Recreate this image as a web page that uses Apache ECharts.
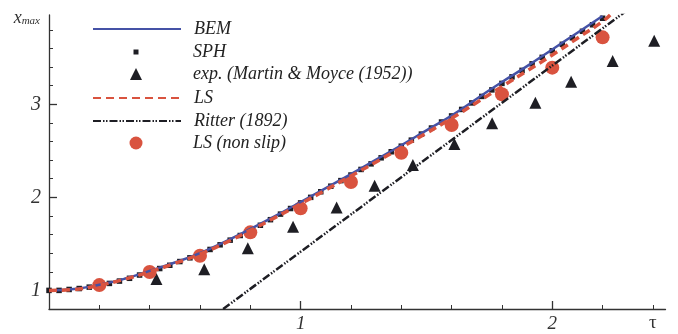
<!DOCTYPE html>
<html>
<head>
<meta charset="utf-8">
<script src="https://cdn.jsdelivr.net/npm/echarts@6/dist/echarts.min.js"></script>
<style>
  html, body { margin: 0; padding: 0; background: #fff; }
  #chart { width: 678px; height: 334px; }
</style>
</head>
<body>
<div id="chart"></div>
<script>
  var serif = '"Liberation Serif", "DejaVu Serif", serif';
  var colorBem = '#4552a6';
  var colorRed = '#d9533f';
  var colorDark = '#1e1e24';
  var colorAxis = '#333333';

  // BEM (solid blue)
  var bemTau = [0, 0.1, 0.2, 0.3, 0.4, 0.5, 0.6, 0.7, 0.8, 0.9, 1.0, 1.1, 1.2, 1.3, 1.4, 1.5, 1.6, 1.7, 1.8, 1.9, 2.0, 2.1, 2.2];
  var bemX = [1.00, 1.015, 1.06, 1.125, 1.21, 1.30, 1.40, 1.525, 1.66, 1.80, 1.95, 2.10, 2.25, 2.405, 2.56, 2.72, 2.88, 3.06, 3.24, 3.41, 3.59, 3.77, 3.95];

  // SPH (small squares)
  var sphTau = [0, 0.04, 0.08, 0.12, 0.16, 0.20, 0.24, 0.28, 0.32, 0.36, 0.40, 0.44, 0.48, 0.52, 0.56, 0.60, 0.64, 0.68, 0.72, 0.76,
    0.80, 0.84, 0.88, 0.92, 0.96, 1.00, 1.04, 1.08, 1.12, 1.16, 1.20, 1.24, 1.28, 1.32, 1.36, 1.40, 1.44, 1.48, 1.52, 1.56,
    1.60, 1.64, 1.68, 1.72, 1.76, 1.80, 1.84, 1.88, 1.92, 1.96, 2.00, 2.04, 2.08, 2.12, 2.16, 2.20];
  var sphX = [1.00, 1.00, 1.01, 1.02, 1.035, 1.055, 1.075, 1.10, 1.13, 1.165, 1.20, 1.235, 1.27, 1.31, 1.35, 1.39, 1.44, 1.49, 1.54, 1.59,
    1.645, 1.70, 1.76, 1.82, 1.88, 1.94, 2.00, 2.06, 2.12, 2.18, 2.24, 2.30, 2.36, 2.425, 2.49, 2.55, 2.615, 2.68, 2.745, 2.81,
    2.875, 2.945, 3.015, 3.085, 3.155, 3.225, 3.295, 3.365, 3.435, 3.505, 3.575, 3.645, 3.715, 3.785, 3.855, 3.925];

  // exp. (Martin & Moyce (1952))
  var expTau = [0.427, 0.617, 0.79, 0.97, 1.143, 1.294, 1.446, 1.611, 1.761, 1.933, 2.075, 2.24, 2.405];
  var expX = [1.122, 1.226, 1.452, 1.684, 1.892, 2.125, 2.347, 2.573, 2.796, 3.017, 3.243, 3.466, 3.684];

  // LS (red dashed)
  var lsTau = [0, 0.1, 0.2, 0.3, 0.4, 0.5, 0.6, 0.7, 0.8, 0.9, 1.0, 1.1, 1.2, 1.3, 1.4, 1.5, 1.6, 1.7, 1.8, 1.9, 2.0, 2.1, 2.2, 2.23];
  var lsX = [1.00, 1.01, 1.055, 1.12, 1.20, 1.29, 1.39, 1.51, 1.645, 1.785, 1.93, 2.08, 2.23, 2.38, 2.535, 2.69, 2.85, 3.02, 3.19, 3.36, 3.53, 3.71, 3.89, 3.96];

  // Ritter (1892)
  var ritterTau = [0.692, 2.29];
  var ritterX = [0.8, 3.996];

  // LS (non slip)
  var nsTau = [0.2, 0.4, 0.6, 0.8, 1.0, 1.2, 1.4, 1.6, 1.8, 2.0, 2.2];
  var nsX = [1.057, 1.197, 1.372, 1.624, 1.882, 2.165, 2.48, 2.777, 3.108, 3.394, 3.72];

  var xMajorTicks = [1, 2];
  var xMinorTicks = [0.2, 0.4, 0.6, 0.8, 1.2, 1.4, 1.6, 1.8, 2.2, 2.4];
  var xLabels = [1, 2, 2.4];
  var yMajorTicks = [1, 2, 3];
  var yMinorTicks = [1.2, 1.4, 1.6, 1.8, 2.2, 2.4, 2.6, 2.8, 3.2, 3.4, 3.6, 3.8];

  function pairs(a, b) {
    return a.map(function (v, i) { return [v, b[i]]; });
  }

  // legend rows: line items span 92..180, marker items centred at 136, text starts at 193
  var legendNames = ['BEM', 'SPH', 'exp. (Martin & Moyce (1952))', 'LS', 'Ritter (1892)', 'LS (non slip)'];
  var legendCenters = [29, 52, 74, 98, 121, 143];
  var legendIcons = ['line', 'rect', 'triangle', 'line', 'line', 'circle'];
  var legendSizes = [14, 5, 12, 14, 14, 13];

  var legends = legendNames.map(function (n, i) {
    var isLine = legendIcons[i] === 'line';
    var w = isLine ? 88 : legendSizes[i];
    var left = isLine ? 92 : 136 - w / 2;
    var item = { name: n };
    if (isLine) {
      item.itemStyle = { opacity: 0 };
    } else {
      item.icon = legendIcons[i];
    }
    return {
      data: [item],
      left: left,
      top: legendCenters[i] - 9,
      padding: 0,
      itemWidth: w,
      itemHeight: legendSizes[i],
      selectedMode: false,
      textStyle: {
        fontFamily: serif, fontStyle: 'italic', fontSize: 18, color: '#222',
        padding: [0, 0, 0, 193 - (left + w + 5)]
      }
    };
  });

  var chart = echarts.init(document.getElementById('chart'));
  chart.setOption({
    animation: false,
    backgroundColor: '#ffffff',
    legend: legends,
    grid: { left: 49, right: 12.5, top: 15, bottom: 25 },
    xAxis: [
      {
        type: 'value', min: 0, max: 2.45,
        axisLine: { lineStyle: { color: colorAxis, width: 1.3 } },
        splitLine: { show: false },
        axisTick: { inside: true, length: 8, customValues: xMajorTicks, lineStyle: { color: colorAxis, width: 1.3 } },
        axisLabel: {
          customValues: xLabels, margin: 5,
          fontFamily: serif, fontStyle: 'italic', fontSize: 19, color: '#333',
          formatter: function (v) { return v === 2.4 ? '{t|τ}' : String(v); },
          rich: { t: { fontFamily: serif, fontStyle: 'normal', fontSize: 19, color: '#333' } }
        }
      },
      {
        type: 'value', min: 0, max: 2.45, position: 'bottom', offset: 0,
        axisLine: { show: false },
        splitLine: { show: false },
        axisTick: { inside: true, length: 4, customValues: xMinorTicks, lineStyle: { color: colorAxis, width: 1 } },
        axisLabel: { show: false }
      }
    ],
    yAxis: [
      {
        type: 'value', min: 0.8, max: 3.96,
        name: '{x|x}{s|max}', nameLocation: 'end', nameGap: -12,
        nameTextStyle: {
          align: 'right', padding: [0, 9, 0, 0],
          rich: {
            x: { fontFamily: serif, fontStyle: 'italic', fontSize: 18, color: '#333', lineHeight: 18 },
            s: { fontFamily: serif, fontStyle: 'italic', fontSize: 11, color: '#333', lineHeight: 10, verticalAlign: 'bottom' }
          }
        },
        axisLine: { show: true, lineStyle: { color: colorAxis, width: 1.3 } },
        splitLine: { show: false },
        axisTick: { show: true, inside: true, length: 8, customValues: yMajorTicks, lineStyle: { color: colorAxis, width: 1.3 } },
        axisLabel: { customValues: yMajorTicks, margin: 8, fontFamily: serif, fontStyle: 'italic', fontSize: 20, color: '#333' }
      },
      {
        type: 'value', min: 0.8, max: 3.96, position: 'left', offset: 0,
        axisLine: { show: false },
        splitLine: { show: false },
        axisTick: { show: true, inside: true, length: 4, customValues: yMinorTicks, lineStyle: { color: colorAxis, width: 1 } },
        axisLabel: { show: false }
      }
    ],
    series: [
      {
        name: 'BEM', type: 'line', smooth: true, symbol: 'none',
        data: pairs(bemTau, bemX),
        lineStyle: { color: colorBem, width: 2.5 },
        itemStyle: { color: colorBem }
      },
      {
        name: 'LS', type: 'line', smooth: true, symbol: 'none',
        data: pairs(lsTau, lsX),
        lineStyle: { color: colorRed, width: 3.5, type: [8, 5] },
        itemStyle: { color: colorRed }
      },
      {
        name: 'Ritter (1892)', type: 'line', symbol: 'none',
        data: pairs(ritterTau, ritterX),
        lineStyle: { color: colorDark, width: 2.5, type: [8, 2, 1.5, 1.5, 1.5, 2] },
        itemStyle: { color: colorDark }
      },
      {
        name: 'SPH', type: 'scatter', symbol: 'rect', symbolSize: 5.5,
        data: pairs(sphTau, sphX),
        itemStyle: { color: colorDark, opacity: 1 }
      },
      {
        name: 'exp. (Martin & Moyce (1952))', type: 'scatter', symbol: 'triangle', symbolSize: 12,
        data: pairs(expTau, expX),
        itemStyle: { color: colorDark, opacity: 1 }
      },
      {
        name: 'LS (non slip)', type: 'scatter', symbol: 'circle', symbolSize: 14,
        data: pairs(nsTau, nsX),
        itemStyle: { color: colorRed, opacity: 1 }
      }
    ]
  });
</script>
</body>
</html>
